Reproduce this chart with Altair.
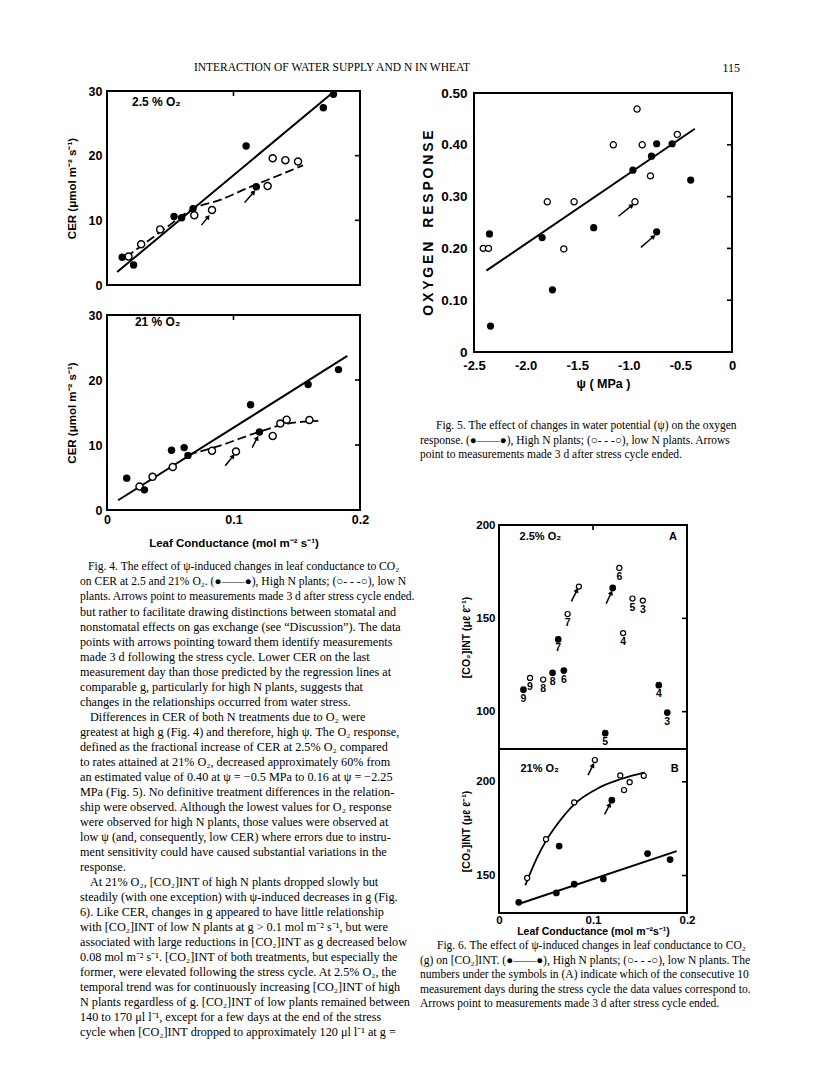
import math
import altair as alt
import pandas as pd

SANS = "Liberation Sans"
SERIF = "Liberation Serif"

# ---------------- Fig. 4 (top): CER vs leaf conductance, 2.5% O2 ----------------
f4a_high_g = [0.012, 0.021, 0.053, 0.059, 0.068, 0.110, 0.118, 0.171, 0.179]
f4a_high_cer = [4.3, 3.1, 10.6, 10.4, 11.8, 21.5, 15.2, 27.4, 29.5]
f4a_low_g = [0.017, 0.027, 0.042, 0.069, 0.083, 0.127, 0.131, 0.141, 0.151]
f4a_low_cer = [4.4, 6.3, 8.6, 10.8, 11.6, 15.3, 19.6, 19.3, 19.1]
f4a_fit_g = [0.008, 0.180]
f4a_fit_cer = [2.0, 30.0]
f4a_curve_g = [0.015, 0.045, 0.068, 0.090, 0.110, 0.135, 0.155]
f4a_curve_cer = [4.3, 8.6, 11.8, 13.2, 14.9, 16.9, 18.5]
f4a_arrow_g0 = [0.0747, 0.1088]
f4a_arrow_cer0 = [9.26, 12.76]
f4a_arrow_g1 = [0.080, 0.116]
f4a_arrow_cer1 = [10.55, 14.36]

# ---------------- Fig. 4 (bottom): 21% O2 ----------------
f4b_high_g = [0.0156, 0.0296, 0.051, 0.061, 0.064, 0.1135, 0.1205, 0.159, 0.183]
f4b_high_cer = [4.9, 3.1, 9.2, 9.6, 8.4, 16.2, 12.0, 19.3, 21.6]
f4b_low_g = [0.0257, 0.036, 0.052, 0.083, 0.102, 0.131, 0.137, 0.142, 0.160]
f4b_low_cer = [3.6, 5.1, 6.6, 9.1, 9.0, 11.4, 13.3, 13.9, 13.85]
f4b_fit_g = [0.0088, 0.190]
f4b_fit_cer = [1.5, 23.7]
f4b_curve_g = [0.064, 0.086, 0.120, 0.143, 0.167]
f4b_curve_cer = [8.5, 9.7, 12.0, 13.3, 13.7]
f4b_arrow_g0 = [0.0935, 0.1148]
f4b_arrow_cer0 = [6.8, 9.6]
f4b_arrow_g1 = [0.0997, 0.1187]
f4b_arrow_cer1 = [8.3, 11.1]

# ---------------- Fig. 5: oxygen response vs water potential ----------------
f5_high_psi = [-2.35, -2.34, -1.84, -1.74, -1.34, -0.96, -0.78, -0.73, -0.58, -0.40, -0.73]
f5_high_resp = [0.228, 0.05, 0.221, 0.12, 0.24, 0.351, 0.378, 0.402, 0.402, 0.332, 0.232]
f5_low_psi = [-2.41, -2.36, -1.79, -1.53, -1.63, -1.15, -0.92, -0.87, -0.79, -0.94, -0.53]
f5_low_resp = [0.20, 0.20, 0.29, 0.29, 0.199, 0.40, 0.469, 0.40, 0.34, 0.29, 0.42]
f5_fit_psi = [-2.38, -0.36]
f5_fit_resp = [0.157, 0.431]
f5_arrow_psi0 = [-1.10, -0.883]
f5_arrow_resp0 = [0.262, 0.202]
f5_arrow_psi1 = [-0.970, -0.760]
f5_arrow_resp1 = [0.283, 0.223]

# ---------------- Fig. 6A: [CO2]int vs leaf conductance, 2.5% O2 ----------------
f6a_high_g = [0.026, 0.057, 0.069, 0.063, 0.121, 0.113, 0.170, 0.179]
f6a_high_ci = [111.8, 120.8, 122.0, 138.7, 166.3, 88.5, 114.2, 99.5]
f6a_high_day = ["9", "8", "6", "7", "", "5", "4", "3"]
f6a_low_g = [0.033, 0.047, 0.073, 0.085, 0.128, 0.132, 0.142, 0.153]
f6a_low_ci = [118.1, 117.2, 152.3, 167.0, 177.0, 142.1, 160.6, 159.5]
f6a_low_day = ["9", "8", "7", "", "6", "4", "5", "3"]
f6a_arrow_g0 = [0.077, 0.114]
f6a_arrow_ci0 = [159.1, 157.9]
f6a_arrow_g1 = [0.083, 0.1195]
f6a_arrow_ci1 = [165.1, 163.8]

# ---------------- Fig. 6B: 21% O2 ----------------
f6b_high_g = [0.021, 0.061, 0.064, 0.080, 0.111, 0.120, 0.158, 0.182]
f6b_high_ci = [135.7, 140.7, 165.7, 145.4, 148.2, 190.2, 161.7, 158.5]
f6b_low_g = [0.030, 0.050, 0.080, 0.102, 0.129, 0.133, 0.139, 0.154]
f6b_low_ci = [148.7, 169.4, 189.0, 211.6, 203.4, 195.6, 199.8, 203.2]
f6b_fit_g = [0.020, 0.189]
f6b_fit_ci = [134.7, 163.0]
f6b_curve_g = [0.028, 0.040, 0.050, 0.060, 0.080, 0.107, 0.130, 0.155]
f6b_curve_ci = [144.8, 159.0, 168.5, 176.0, 188.0, 197.0, 201.5, 205.0]
f6b_arrow_g0 = [0.0947, 0.1124]
f6b_arrow_ci0 = [203.6, 182.6]
f6b_arrow_g1 = [0.100, 0.1177]
f6b_arrow_ci1 = [208.9, 187.8]

# ---------------- page text ----------------
HEADER = "INTERACTION OF WATER SUPPLY AND N IN WHEAT"
PAGE_NO = "115"

fig4_caption = [
    "Fig. 4. The effect of ψ-induced changes in leaf conductance to CO₂",
    "on CER at 2.5 and 21% O₂. (●——●), High N plants; (○- - -○), low N",
    "plants. Arrows point to measurements made 3 d after stress cycle ended.",
]
body_lines = [
    "but rather to facilitate drawing distinctions between stomatal and",
    "nonstomatal effects on gas exchange (see “Discussion”). The data",
    "points with arrows pointing toward them identify measurements",
    "made 3 d following the stress cycle. Lower CER on the last",
    "measurement day than those predicted by the regression lines at",
    "comparable g, particularly for high N plants, suggests that",
    "changes in the relationships occurred from water stress.",
    "Differences in CER of both N treatments due to O₂ were",
    "greatest at high g (Fig. 4) and therefore, high ψ. The O₂ response,",
    "defined as the fractional increase of CER at 2.5% O₂ compared",
    "to rates attained at 21% O₂, decreased approximately 60% from",
    "an estimated value of 0.40 at ψ = −0.5 MPa to 0.16 at ψ = −2.25",
    "MPa (Fig. 5). No definitive treatment differences in the relation-",
    "ship were observed. Although the lowest values for O₂ response",
    "were observed for high N plants, those values were observed at",
    "low ψ (and, consequently, low CER) where errors due to instru-",
    "ment sensitivity could have caused substantial variations in the",
    "response.",
    "At 21% O₂, [CO₂]INT of high N plants dropped slowly but",
    "steadily (with one exception) with ψ-induced decreases in g (Fig.",
    "6). Like CER, changes in g appeared to have little relationship",
    "with [CO₂]INT of low N plants at g > 0.1 mol m⁻² s⁻¹, but were",
    "associated with large reductions in [CO₂]INT as g decreased below",
    "0.08 mol m⁻² s⁻¹. [CO₂]INT of both treatments, but especially the",
    "former, were elevated following the stress cycle. At 2.5% O₂, the",
    "temporal trend was for continuously increasing [CO₂]INT of high",
    "N plants regardless of g. [CO₂]INT of low plants remained between",
    "140 to 170 μl l⁻¹, except for a few days at the end of the stress",
    "cycle when [CO₂]INT dropped to approximately 120 μl l⁻¹ at g =",
]
body_par_starts = [7, 18]
fig5_caption = [
    "Fig. 5. The effect of changes in water potential (ψ) on the oxygen",
    "response. (●——●), High N plants; (○- - -○), low N plants. Arrows",
    "point to measurements made 3 d after stress cycle ended.",
]
fig6_caption = [
    "Fig. 6. The effect of ψ-induced changes in leaf conductance to CO₂",
    "(g) on [CO₂]INT. (●——●), High N plants; (○- - -○), low N plants. The",
    "numbers under the symbols in (A) indicate which of the consecutive 10",
    "measurement days during the stress cycle the data values correspond to.",
    "Arrows point to measurements made 3 d after stress cycle ended.",
]

FRAME = alt.ViewBackground(stroke="black", strokeWidth=2)


def panel(W, H, xdom, ydom, xaxis, yaxis, hi, lo, hi_size, lo_size, lo_sw,
          fit=None, curve=None, dashed=True, arrows=None, notes=None,
          note_size=12, days_hi=None, days_lo=None, rticks=(), tticks=()):
    xs = alt.Scale(domain=xdom, nice=False, zero=False)
    ys = alt.Scale(domain=ydom, nice=False, zero=False)
    X = alt.X("x:Q", scale=xs, axis=xaxis)
    Y = alt.Y("y:Q", scale=ys, axis=yaxis)
    layers = []
    rows = []
    tx = (xdom[1] - xdom[0]) * 5.0 / W
    ty = (ydom[1] - ydom[0]) * 5.0 / H
    for v in rticks:
        rows.append({"x": xdom[1] - tx, "x2": xdom[1], "y": v, "y2": v})
    for v in tticks:
        rows.append({"x": v, "x2": v, "y": ydom[1] - ty, "y2": ydom[1]})
    if rows:
        layers.append(alt.Chart(pd.DataFrame(rows)).mark_rule(color="black", strokeWidth=1.6)
                      .encode(x=X, x2="x2:Q", y=Y, y2="y2:Q"))
    if fit is not None:
        layers.append(alt.Chart(pd.DataFrame({"x": fit[0], "y": fit[1]}))
                      .mark_line(color="black", strokeWidth=2).encode(x=X, y=Y))
    if curve is not None:
        kw = {"strokeDash": [9, 4]} if dashed else {}
        layers.append(alt.Chart(pd.DataFrame({"x": curve[0], "y": curve[1]}))
                      .mark_line(color="black", strokeWidth=1.8, interpolate="monotone", **kw)
                      .encode(x=X, y=Y))
    if arrows is not None:
        x0, y0, x1, y1 = arrows
        ang = []
        for a, b, c, d in zip(x0, y0, x1, y1):
            sx = (c - a) / (xdom[1] - xdom[0]) * W
            sy = -(d - b) / (ydom[1] - ydom[0]) * H
            ang.append(math.degrees(math.atan2(sx, -sy)))
        adf = pd.DataFrame({"x": x0, "y": y0, "x2": x1, "y2": y1, "ang": ang})
        layers.append(alt.Chart(adf).mark_rule(color="black", strokeWidth=1.5)
                      .encode(x=X, y=Y, x2="x2:Q", y2="y2:Q"))
        hdf = pd.DataFrame({"x": x1, "y": y1, "ang": ang})
        layers.append(alt.Chart(hdf).mark_point(shape="triangle-up", filled=True, size=30,
                                                color="black", opacity=1)
                      .encode(x=X, y=Y, angle=alt.Angle("ang:Q", scale=None)))
    layers.append(alt.Chart(pd.DataFrame({"x": lo[0], "y": lo[1]}))
                  .mark_point(shape="circle", filled=True, fill="white", stroke="black",
                              strokeWidth=lo_sw, size=lo_size, opacity=1)
                  .encode(x=X, y=Y))
    layers.append(alt.Chart(pd.DataFrame({"x": hi[0], "y": hi[1]}))
                  .mark_point(shape="circle", filled=True, color="black", size=hi_size, opacity=1)
                  .encode(x=X, y=Y))
    for dl, src in ((days_hi, hi), (days_lo, lo)):
        if dl is not None:
            ddf = pd.DataFrame({"x": src[0], "y": src[1], "t": dl})
            layers.append(alt.Chart(ddf).mark_text(font=SANS, fontSize=10.5, fontWeight="bold",
                                                   baseline="top", dy=4, color="black")
                          .encode(x=X, y=Y, text="t:N"))
    if notes is not None:
        ndf = pd.DataFrame({"x": notes[0], "y": notes[1], "t": notes[2]})
        layers.append(alt.Chart(ndf).mark_text(font=SANS, fontSize=note_size, fontWeight="bold",
                                               baseline="middle", align="center", color="black")
                      .encode(x=X, y=Y, text="t:N"))
    return alt.layer(*layers).properties(width=W, height=H, view=FRAME)


def lab(**kw):
    base = dict(labelFont=SANS, labelFontWeight="bold", titleFont=SANS, titleFontWeight="bold",
                labelColor="black", titleColor="black")
    base.update(kw)
    return alt.Axis(**base)


LEXPR_1 = "datum.value == 0 ? '0' : format(datum.value, '.1f')"

cer_title = "CER (μmol m⁻² s⁻¹)"
f4_y = lab(values=[0, 10, 20, 30], format="d", labelFontSize=12.5, labelPadding=5,
           title=cer_title, titleFontSize=11.5, titlePadding=11)
f4b_x = lab(values=[0, 0.1, 0.2], labelExpr=LEXPR_1, labelFlush=False, labelFontSize=12.5,
            labelPadding=3, title="Leaf  Conductance (mol m⁻² s⁻¹)", titleFontSize=11.5,
            titlePadding=12)

fig4a = panel(253, 194, [0, 0.2], [0, 30], None, f4_y,
              (f4a_high_g, f4a_high_cer), (f4a_low_g, f4a_low_cer), 55, 50, 1.4,
              fit=(f4a_fit_g, f4a_fit_cer), curve=(f4a_curve_g, f4a_curve_cer),
              arrows=(f4a_arrow_g0, f4a_arrow_cer0, f4a_arrow_g1, f4a_arrow_cer1),
              notes=([0.039], [28.3], ["2.5 % O₂"]), rticks=(10, 20), tticks=(0.1,))
fig4b = panel(253, 195, [0, 0.2], [0, 30], f4b_x, f4_y,
              (f4b_high_g, f4b_high_cer), (f4b_low_g, f4b_low_cer), 55, 50, 1.4,
              fit=(f4b_fit_g, f4b_fit_cer), curve=(f4b_curve_g, f4b_curve_cer),
              arrows=(f4b_arrow_g0, f4b_arrow_cer0, f4b_arrow_g1, f4b_arrow_cer1),
              notes=([0.040], [29.0], ["21 % O₂"]), rticks=(10, 20), tticks=(0.1,))

oxy_title = "\u2009".join("OXYGEN") + "\u2002\u2002" + "\u2009".join("RESPONSE")
f5_x = lab(values=[-2.5, -2.0, -1.5, -1.0, -0.5, 0],
           labelExpr="datum.value == 0 ? '0' : replace(format(datum.value, '.1f'), '\u2212', '-')",
           labelFlush=False, labelFontSize=13, labelPadding=7,
           title="ψ ( MPa )", titleFontSize=12.5, titlePadding=5)
f5_y = lab(values=[0, 0.1, 0.2, 0.3, 0.4, 0.5],
           labelExpr="datum.value == 0 ? '0' : format(datum.value, '.2f')",
           labelFontSize=13.5, labelPadding=7, title=oxy_title, titleFontSize=14, titlePadding=5)
fig5 = panel(258, 259, [-2.5, 0], [0, 0.5], f5_x, f5_y,
             (f5_high_psi, f5_high_resp), (f5_low_psi, f5_low_resp), 52, 38, 1.3,
             fit=(f5_fit_psi, f5_fit_resp),
             arrows=(f5_arrow_psi0, f5_arrow_resp0, f5_arrow_psi1, f5_arrow_resp1),
             rticks=(0.1, 0.2, 0.3, 0.4))

ci_title = "[CO₂]INT (μℓ ℓ⁻¹)"
f6a_y = lab(values=[100, 150, 200], format="d", labelFontSize=11.5, labelPadding=4,
            title=ci_title, titleFontSize=10.5, titlePadding=4)
f6b_y = lab(values=[150, 200], format="d", labelFontSize=11.5, labelPadding=4,
            title=ci_title, titleFontSize=10.5, titlePadding=4)
f6b_x = lab(values=[0, 0.1, 0.2], labelExpr=LEXPR_1, labelFlush=False, labelFontSize=11.5,
            labelPadding=1, title="Leaf Conductance (mol m⁻²s⁻¹)", titleFontSize=10.5,
            titlePadding=1)
fig6a = panel(188, 224, [0, 0.2], [80, 200], None, f6a_y,
              (f6a_high_g, f6a_high_ci), (f6a_low_g, f6a_low_ci), 45, 26, 1.2,
              arrows=(f6a_arrow_g0, f6a_arrow_ci0, f6a_arrow_g1, f6a_arrow_ci1),
              notes=([0.044, 0.185], [193.7, 193.7], ["2.5% O₂", "A"]), note_size=11,
              days_hi=f6a_high_day, days_lo=f6a_low_day, rticks=(100, 150), tticks=(0.1,))
fig6b = panel(188, 164, [0, 0.2], [130, 217.5], f6b_x, f6b_y,
              (f6b_high_g, f6b_high_ci), (f6b_low_g, f6b_low_ci), 45, 26, 1.2,
              fit=(f6b_fit_g, f6b_fit_ci), curve=(f6b_curve_g, f6b_curve_ci), dashed=False,
              arrows=(f6b_arrow_g0, f6b_arrow_ci0, f6b_arrow_g1, f6b_arrow_ci1),
              notes=([0.0433, 0.187], [206.6, 206.6], ["21% O₂", "B"]), note_size=11,
              rticks=(150, 200))


def text_block(lines, indented, x_plain, x_indent, y0, step, size, row0=0):
    df = pd.DataFrame({"row": [row0 + i for i in range(len(lines))], "t": lines,
                       "ind": [i in indented for i in range(len(lines))]})
    return (alt.Chart(df)
            .transform_calculate(xo=f"datum.ind ? {x_indent} : {x_plain}")
            .mark_text(align="left", baseline="middle", font=SERIF, fontSize=size, color="black")
            .encode(x=alt.X("xo:Q", scale=None),
                    y=alt.Y("row:Q", scale=alt.Scale(domain=[0, 1], range=[y0, y0 + step]),
                            axis=None),
                    text="t:N"))


def spacer(w, h):
    return (alt.Chart(pd.DataFrame({"v": [0]})).mark_point(opacity=0, size=1)
            .encode(x=alt.value(0), y=alt.value(0)).properties(width=w, height=h))


hdrL = (alt.Chart(pd.DataFrame({"t": [HEADER]}))
        .mark_text(align="center", baseline="middle", font=SERIF, fontSize=11.5, color="black")
        .encode(x=alt.value(225), y=alt.value(13), text="t:N").properties(width=253, height=36))
hdrR = (alt.Chart(pd.DataFrame({"t": [PAGE_NO]}))
        .mark_text(align="right", baseline="middle", font=SERIF, fontSize=12, color="black")
        .encode(x=alt.value(266), y=alt.value(13), text="t:N").properties(width=258, height=38))

textL = alt.layer(
    text_block(fig4_caption, [0], -27, -19, 57, 15, 11.6),
    text_block(body_lines, body_par_starts, -27, -17, 57, 15, 12.2, row0=3),
).properties(width=253, height=530)
cap5 = text_block(fig5_caption, [0], -54, -38, 74, 14.5, 11.5).properties(width=258, height=173)
cap6 = text_block(fig6_caption, [0], -79, -62, 33, 14.5, 11.5).properties(width=188, height=100)

left_col = alt.vconcat(hdrL, fig4a, spacer(253, 30), fig4b, textL, spacing=0, bounds="flush")
fig6_stack = alt.vconcat(fig6a, fig6b, cap6, spacing=0, bounds="flush")
fig6_row = alt.hconcat(spacer(25, 1), fig6_stack, spacing=0, bounds="flush")
right_col = alt.vconcat(hdrR, fig5, cap5, fig6_row, spacing=0, bounds="flush")

chart = (alt.hconcat(left_col, right_col, spacing=367, bounds="flush")
         .properties(padding={"left": 57, "top": 47, "right": 5, "bottom": 5},
                     background="white")
         .configure_view(stroke=None)
         .configure_axis(grid=False, domain=False, ticks=False))

chart.save("out.html", embed_options={"renderer": "svg", "actions": False})
